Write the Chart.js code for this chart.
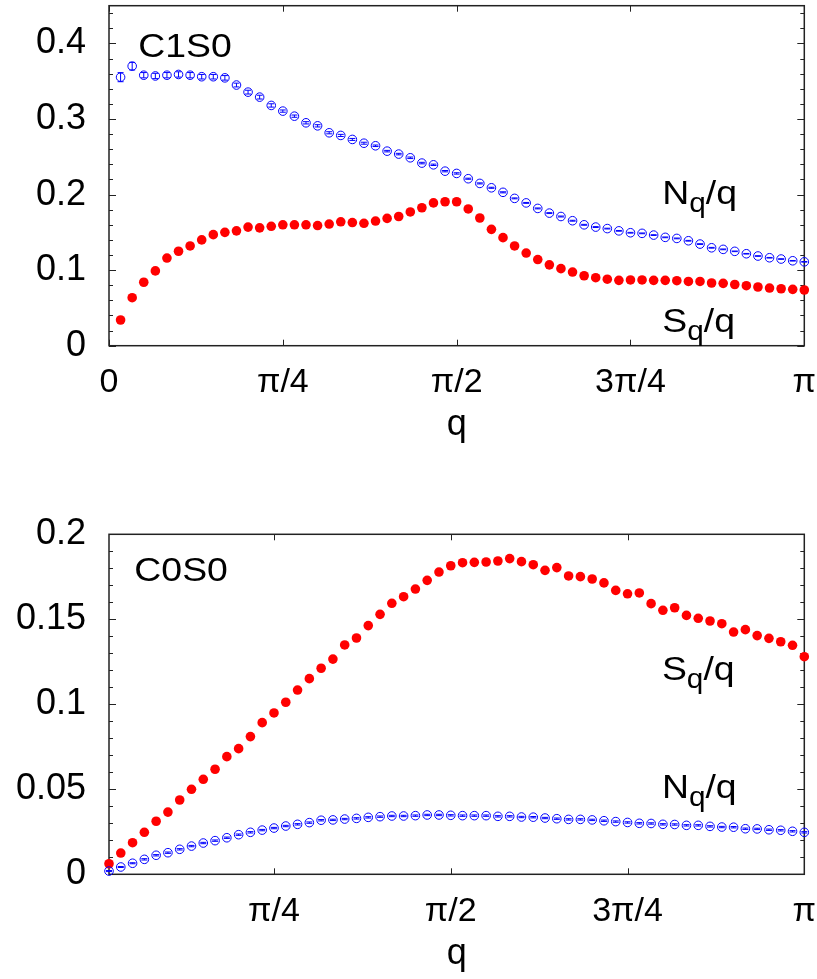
<!DOCTYPE html>
<html>
<head>
<meta charset="utf-8">
<script src="https://cdn.jsdelivr.net/npm/chart.js@4/dist/chart.umd.min.js"></script>
<style>
  html, body { margin: 0; padding: 0; background: #fff; }
  #wrap { position: relative; width: 817px; height: 979px; }
  canvas { position: absolute; left: 0; }
</style>
</head>
<body>
<div id="wrap">
  <canvas id="top" width="817" height="450" style="top:0"></canvas>
  <canvas id="bottom" width="817" height="529" style="top:450px"></canvas>
</div>
<script>
// momentum grid q = 2*pi*k/L, k = 1..60
const L = 120;
const q = Array.from({ length: 60 }, (_, i) => (2 * Math.PI * (i + 1)) / L);

// C1S0 panel
const c1s0S = [
  0.034, 0.0635, 0.084, 0.099, 0.116, 0.125, 0.132, 0.140, 0.147, 0.150,
  0.152, 0.157, 0.156, 0.158, 0.160, 0.160, 0.160, 0.159, 0.161, 0.164,
  0.163, 0.162, 0.165, 0.1685, 0.171, 0.177, 0.1826, 0.189, 0.1905, 0.1905,
  0.181, 0.169, 0.154, 0.143, 0.132, 0.1226, 0.114, 0.107, 0.102, 0.0975,
  0.0926, 0.090, 0.088, 0.0865, 0.087, 0.087, 0.0865, 0.0865, 0.086, 0.085,
  0.085, 0.083, 0.0825, 0.081, 0.0794, 0.0777, 0.0763, 0.0754, 0.0746, 0.0737
];
const c1s0N = [
  0.3554, 0.370, 0.358, 0.357, 0.358, 0.359, 0.358, 0.356, 0.356, 0.3545,
  0.345, 0.3356, 0.329, 0.318, 0.3105, 0.3038, 0.295, 0.291, 0.2818, 0.2783,
  0.273, 0.268, 0.2646, 0.2575, 0.2536, 0.2487, 0.2417, 0.2394, 0.231, 0.228,
  0.221, 0.2148, 0.209, 0.203, 0.195, 0.189, 0.1817, 0.1755, 0.171, 0.1654,
  0.160, 0.157, 0.155, 0.152, 0.1495, 0.1487, 0.1464, 0.1434, 0.142, 0.1389,
  0.1345, 0.1296, 0.1275, 0.1249, 0.1217, 0.1187, 0.1164, 0.1147, 0.1124, 0.111
];
const c1s0Nerr = [
  0.006, 0.005, 0.0035, 0.0035, 0.0035, 0.0035, 0.0035, 0.003, 0.003, 0.003,
  0.0025, 0.0025, 0.0025, 0.0022, 0.0015, 0.0015, 0.0015, 0.0015, 0.0014, 0.0014,
  0.0013, 0.0013, 0.001, 0.001, 0.001, 0.001, 0.001, 0.0009, 0.0009, 0.0009,
  0.0007, 0.0007, 0.0007, 0.0007, 0.0006, 0.0006, 0.0006, 0.0006, 0.0006, 0.0006,
  0.0006, 0.0006, 0.0005, 0.0005, 0.0005, 0.0005, 0.0005, 0.0005, 0.0005, 0.0005,
  0.0005, 0.0005, 0.0005, 0.0004, 0.0004, 0.0004, 0.0004, 0.0004, 0.0004, 0.0004
];

// C0S0 panel
const c0s0S = [
  0.0062, 0.0125, 0.0186, 0.0247, 0.0312, 0.0366, 0.0437, 0.050, 0.0559, 0.0618,
  0.0692, 0.0739, 0.081, 0.0892, 0.0949, 0.1012, 0.1084, 0.1151, 0.1212, 0.1266,
  0.1349, 0.139, 0.1463, 0.1529, 0.1594, 0.1633, 0.1678, 0.1729, 0.1778, 0.1815,
  0.1833, 0.1835, 0.1837, 0.1843, 0.1857, 0.1839, 0.1821, 0.1788, 0.1804, 0.1755,
  0.1751, 0.1737, 0.1714, 0.167, 0.165, 0.1655, 0.1592, 0.1553, 0.1568, 0.1523,
  0.1506, 0.149, 0.1474, 0.1425, 0.1439, 0.1404, 0.1388, 0.1368, 0.1347, 0.128
];
const c0s0N = [
  0.0019, 0.0043, 0.0065, 0.0088, 0.0112, 0.0127, 0.0147, 0.0166, 0.0184, 0.0198,
  0.0215, 0.0233, 0.0247, 0.026, 0.0272, 0.0284, 0.0294, 0.0304, 0.0318, 0.032,
  0.0325, 0.0329, 0.0335, 0.0339, 0.0343, 0.0343, 0.0345, 0.0349, 0.0349, 0.0347,
  0.0345, 0.0345, 0.0345, 0.0341, 0.0341, 0.0337, 0.0336, 0.0331, 0.0327, 0.0323,
  0.0323, 0.032, 0.0315, 0.031, 0.0305, 0.030, 0.0299, 0.0294, 0.0293, 0.0288,
  0.0288, 0.0282, 0.0278, 0.0277, 0.0268, 0.0267, 0.0262, 0.0259, 0.0253, 0.0247
];
const c0s0Nerr = [
  0.0003, 0.0003, 0.0003, 0.0004, 0.0004, 0.0004, 0.0004, 0.0004, 0.0004, 0.0004,
  0.0004, 0.0004, 0.0004, 0.0004, 0.0004, 0.0004, 0.0004, 0.0004, 0.0004, 0.0004,
  0.0004, 0.0004, 0.0004, 0.0004, 0.0004, 0.0004, 0.0004, 0.0004, 0.0004, 0.0004,
  0.0004, 0.0004, 0.0004, 0.0004, 0.0004, 0.0004, 0.0004, 0.0004, 0.0004, 0.0004,
  0.0004, 0.0004, 0.0004, 0.0004, 0.0004, 0.0004, 0.0004, 0.0004, 0.0004, 0.0004,
  0.0004, 0.0004, 0.0004, 0.0004, 0.0004, 0.0004, 0.0004, 0.0004, 0.0004, 0.0004
];

// axis ticks
const topXTicks = [0, Math.PI / 4, Math.PI / 2, 3 * Math.PI / 4, Math.PI];
const topXLabels = ['0', 'π/4', 'π/2', '3π/4', 'π'];
const bottomXTicks = [Math.PI / 4, Math.PI / 2, 3 * Math.PI / 4, Math.PI];
const bottomXLabels = ['π/4', 'π/2', '3π/4', 'π'];
const topYTicks = [0, 0.1, 0.2, 0.3, 0.4];
const topYLabels = ['0', '0.1', '0.2', '0.3', '0.4'];
const bottomYTicks = [0, 0.05, 0.1, 0.15, 0.2];
const bottomYLabels = ['0', '0.05', '0.1', '0.15', '0.2'];

const FONT = "'Liberation Sans', Arial, Helvetica, sans-serif";

function steps(from, to, step) {
  const out = [];
  for (let v = from; v <= to + 1e-9; v += step) out.push(v);
  return out;
}

// frame and inward tick marks (gnuplot style)
const framePlugin = {
  id: 'frame',
  beforeDatasetsDraw(chart, args, opts) {
    const { ctx, chartArea: a, scales: { x, y } } = chart;
    ctx.save();
    ctx.strokeStyle = '#222';
    ctx.lineWidth = 1;
    ctx.beginPath();
    opts.yMinor.forEach(v => {
      const p = Math.round(y.getPixelForValue(v)) + 0.5;
      ctx.moveTo(a.left, p); ctx.lineTo(a.left + 4, p);
      ctx.moveTo(a.right, p); ctx.lineTo(a.right - 4, p);
    });
    opts.yMajor.forEach(v => {
      const p = Math.round(y.getPixelForValue(v)) + 0.5;
      ctx.moveTo(a.left, p); ctx.lineTo(a.left + 7, p);
      ctx.moveTo(a.right, p); ctx.lineTo(a.right - 7, p);
    });
    opts.xMajor.forEach(v => {
      const p = Math.round(x.getPixelForValue(v)) + 0.5;
      ctx.moveTo(p, a.bottom); ctx.lineTo(p, a.bottom - 6);
      ctx.moveTo(p, a.top); ctx.lineTo(p, a.top + 6);
    });
    ctx.stroke();
    ctx.lineWidth = 1.5;
    ctx.strokeRect(a.left, a.top, a.right - a.left, a.bottom - a.top);
    ctx.restore();
  }
};

// vertical error bars on N_q/q
const errorBarPlugin = {
  id: 'errbars',
  afterDatasetsDraw(chart, args, opts) {
    const { ctx, scales: { x, y } } = chart;
    ctx.save();
    ctx.strokeStyle = '#0000ff';
    ctx.lineWidth = 1;
    ctx.beginPath();
    opts.values.forEach((v, i) => {
      const px = x.getPixelForValue(q[i]);
      const lo = y.getPixelForValue(v - opts.errors[i]);
      const hi = y.getPixelForValue(v + opts.errors[i]);
      ctx.moveTo(px, lo); ctx.lineTo(px, hi);
      ctx.moveTo(px - 3, lo); ctx.lineTo(px + 3, lo);
      ctx.moveTo(px - 3, hi); ctx.lineTo(px + 3, hi);
    });
    ctx.stroke();
    ctx.restore();
  }
};

// panel name and curve labels with subscripts (slightly wide, as in the original)
const textPlugin = {
  id: 'panelText',
  afterDraw(chart, args, opts) {
    const { ctx, scales: { x, y } } = chart;
    ctx.save();
    ctx.fillStyle = '#000';
    ctx.textAlign = 'left';
    ctx.textBaseline = 'alphabetic';
    opts.items.forEach(item => {
      const x0 = x.getPixelForValue(item.q);
      const py = y.getPixelForValue(item.v);
      ctx.save();
      ctx.translate(x0, py);
      ctx.scale(1.1, 1);
      let px = 0;
      item.parts.forEach(part => {
        ctx.font = (part.sub ? 27 : 34) + 'px ' + FONT;
        ctx.fillText(part.t, px, part.sub ? 8 : 0);
        px += ctx.measureText(part.t).width;
      });
      ctx.restore();
    });
    ctx.restore();
  }
};

function makePanel(id, cfg) {
  return new Chart(document.getElementById(id), {
    type: 'scatter',
    data: {
      datasets: [
        {
          label: 'N_q/q',
          data: q.map((v, i) => ({ x: v, y: cfg.N[i] })),
          pointStyle: 'circle',
          pointRadius: 4.3,
          backgroundColor: 'rgba(0,0,0,0)',
          borderColor: '#0000ff',
          borderWidth: 1,
          clip: false,
        },
        {
          label: 'S_q/q',
          data: q.map((v, i) => ({ x: v, y: cfg.S[i] })),
          pointStyle: 'circle',
          pointRadius: 4.8,
          backgroundColor: '#ff0000',
          borderWidth: 0,
          clip: false,
        },
      ],
    },
    plugins: [framePlugin, errorBarPlugin, textPlugin],
    options: {
      responsive: false,
      animation: false,
      events: [],
      layout: { padding: { left: 0, top: cfg.padTop, right: 12.7, bottom: 0 } },
      scales: {
        x: {
          type: 'linear',
          min: cfg.xMin,
          max: Math.PI,
          grid: { display: false, drawTicks: false },
          border: { display: false },
          afterBuildTicks: s => { s.ticks = cfg.xTicks.map(value => ({ value })); },
          afterFit: s => { s.height = cfg.xHeight; s.paddingLeft = 0; s.paddingRight = 0; },
          ticks: {
            autoSkip: false,
            maxRotation: 0,
            padding: 17,
            color: '#000',
            font: { family: FONT, size: 34 },
            callback: (v, i) => cfg.xLabels[i],
          },
          title: {
            display: true,
            text: 'q',
            color: '#000',
            font: { family: FONT, size: 36 },
            padding: { top: 0, bottom: 3 },
          },
        },
        y: {
          type: 'linear',
          min: 0,
          max: cfg.yMax,
          grid: { display: false, drawTicks: false },
          border: { display: false },
          afterBuildTicks: s => { s.ticks = cfg.yTicks.map(value => ({ value })); },
          afterFit: s => { s.width = 109; s.paddingTop = 0; s.paddingBottom = 0; },
          ticks: {
            padding: 23,
            color: '#000',
            font: { family: FONT, size: 36 },
            callback: (v, i) => cfg.yLabels[i],
          },
        },
      },
      plugins: {
        legend: { display: false },
        tooltip: { enabled: false },
        frame: { xMajor: cfg.xTicks, yMajor: cfg.yTicks, yMinor: cfg.yMinor },
        errbars: { values: cfg.N, errors: cfg.Nerr },
        panelText: { items: cfg.text },
      },
    },
  });
}

makePanel('top', {
  S: c1s0S, N: c1s0N, Nerr: c1s0Nerr,
  xMin: 0, xTicks: topXTicks, xLabels: topXLabels,
  yMax: 0.45, yTicks: topYTicks, yLabels: topYLabels, yMinor: steps(0.02, 0.44, 0.02),
  padTop: 5.7, xHeight: 104.3,
  text: [
    { q: 0.132, v: 0.382, parts: [{ t: 'C1S0' }] },
    { q: 2.50, v: 0.188, parts: [{ t: 'N' }, { t: 'q', sub: true }, { t: '/q' }] },
    { q: 2.50, v: 0.0185, parts: [{ t: 'S' }, { t: 'q', sub: true }, { t: '/q' }] },
  ],
});

makePanel('bottom', {
  S: c0s0S, N: c0s0N, Nerr: c0s0Nerr,
  xMin: q[0], xTicks: bottomXTicks, xLabels: bottomXLabels,
  yMax: 0.2, yTicks: bottomYTicks, yLabels: bottomYLabels, yMinor: steps(0.01, 0.19, 0.01),
  padTop: 84.3, xHeight: 104.7,
  text: [
    { q: 0.165, v: 0.1725, parts: [{ t: 'C0S0' }] },
    { q: 2.509, v: 0.1143, parts: [{ t: 'S' }, { t: 'q', sub: true }, { t: '/q' }] },
    { q: 2.509, v: 0.0447, parts: [{ t: 'N' }, { t: 'q', sub: true }, { t: '/q' }] },
  ],
});
</script>
</body>
</html>
